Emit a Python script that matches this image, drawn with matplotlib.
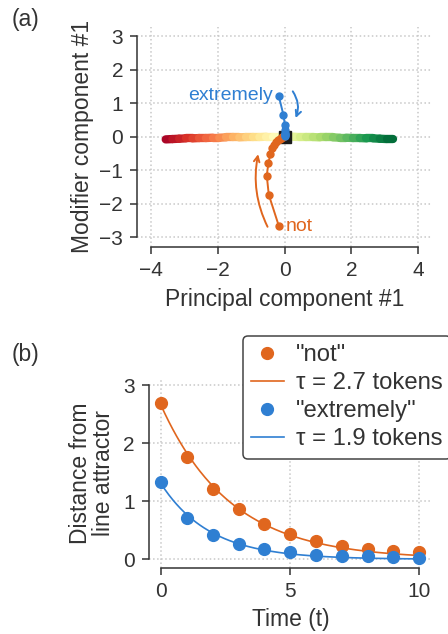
import numpy as np
import matplotlib
matplotlib.use('Agg')
import matplotlib.pyplot as plt
from matplotlib.collections import LineCollection
from matplotlib.patches import FancyArrowPatch

plt.rcParams['font.family'] = ['Liberation Sans', 'DejaVu Sans']

ORANGE = '#e0661e'
BLUE = '#2f7fd2'
DARK = '#333333'
GRIDC = '#c8c8c8'

# line attractor (fixed points along PC1)
attr_x = [-3.55, -3.35, -3.15, -2.95, -2.75, -2.55, -2.35, -2.15, -1.95, -1.75,
          -1.55, -1.35, -1.15, -0.95, -0.75, -0.55, -0.35, -0.15, 0.05, 0.25,
          0.45, 0.65, 0.85, 1.05, 1.25, 1.45, 1.65, 1.85, 2.05, 2.25,
          2.45, 2.65, 2.85, 3.05, 3.25]
attr_y = [-0.08, -0.07, -0.06, -0.05, -0.05, -0.04, -0.04, -0.03, -0.03, -0.02,
          -0.02, -0.02, -0.01, -0.01, -0.01, 0.0, 0.0, 0.0, 0.0, 0.0,
          -0.01, -0.01, -0.01, -0.02, -0.02, -0.02, -0.03, -0.03, -0.04, -0.04,
          -0.05, -0.05, -0.06, -0.07, -0.07]

# trajectories after the modifier word
not_x = [-0.17, -0.47, -0.53, -0.48, -0.42, -0.36, -0.30, -0.24, -0.19, -0.14, -0.10, -0.06, -0.03]
not_y = [-2.66, -1.73, -1.16, -0.78, -0.51, -0.34, -0.24, -0.17, -0.11, -0.07, -0.04, -0.02, 0.0]
ext_x = [-0.17, -0.03, 0.01, 0.01, 0.0, 0.0, 0.0, 0.0]
ext_y = [1.21, 0.64, 0.36, 0.21, 0.12, 0.07, 0.04, 0.02]

# distance from the line attractor vs time
t = [0, 1, 2, 3, 4, 5, 6, 7, 8, 9, 10]
dist_not = [2.69, 1.77, 1.22, 0.86, 0.61, 0.44, 0.31, 0.23, 0.18, 0.15, 0.13]
dist_ext = [1.33, 0.71, 0.42, 0.26, 0.17, 0.13, 0.08, 0.06, 0.05, 0.04, 0.03]
tau_not, amp_not = 2.7, 2.65
tau_ext, amp_ext = 1.9, 1.30

fig = plt.figure(figsize=(4.48, 6.34), dpi=100)
W, H = 448, 634


def px_axes(l, t_, r, b):
    return fig.add_axes([l / W, 1 - b / H, (r - l) / W, (b - t_) / H])


def style(ax, xb, yb):
    for s in ['top', 'right']:
        ax.spines[s].set_visible(False)
    for s in ['left', 'bottom']:
        ax.spines[s].set_color(DARK)
        ax.spines[s].set_linewidth(1.1)
    ax.spines['bottom'].set_bounds(*xb)
    ax.spines['left'].set_bounds(*yb)
    ax.tick_params(direction='out', length=5.2, width=1.1, color=DARK,
                   labelcolor=DARK, labelsize=15, pad=5)
    ax.grid(True, linestyle=':', color=GRIDC, linewidth=1.1)
    ax.set_axisbelow(True)


# ---- panel (a)
ax1 = px_axes(137.3, 26.7, 431.7, 246.7)
style(ax1, (-4, 4), (-3, 3))
ax1.set_xlim(-4.4, 4.4)
ax1.set_ylim(-3.28, 3.28)
ax1.set_xticks([-4, -2, 0, 2, 4])
ax1.set_yticks([-3, -2, -1, 0, 1, 2, 3])

pts = np.column_stack([attr_x, attr_y])
segs = np.stack([pts[:-1], pts[1:]], axis=1)
mid = (np.array(attr_x[:-1]) + np.array(attr_x[1:])) / 2
lc = LineCollection(segs, cmap='RdYlGn', linewidths=6, capstyle='round', zorder=2)
lc.set_array(mid)
lc.set_clim(min(attr_x), max(attr_x))
ax1.add_collection(lc)

ax1.plot([0], [0], marker='s', color='#1a1a1a', markersize=8.5, zorder=3)
ax1.plot(not_x, not_y, '-o', color=ORANGE, markersize=5, lw=1.4, zorder=4)
ax1.plot(ext_x, ext_y, '-o', color=BLUE, markersize=5, lw=1.4, zorder=5)

ax1.text(-0.36, 1.23, 'extremely', color=BLUE, fontsize=14, ha='right', va='center')
ax1.text(0.05, -2.68, 'not', color=ORANGE, fontsize=14, ha='left', va='center')

ax1.add_patch(FancyArrowPatch((0.2, 1.42), (0.3, 0.48), connectionstyle='arc3,rad=-0.3',
                              arrowstyle='->', mutation_scale=10, color=BLUE, lw=1.4))
ax1.add_patch(FancyArrowPatch((-0.47, -2.76), (-0.77, -0.44), connectionstyle='arc3,rad=-0.18',
                              arrowstyle='->', mutation_scale=10, color=ORANGE, lw=1.4))

ax1.set_xlabel('Principal component #1', fontsize=16.5, color=DARK, labelpad=6)
ax1.set_ylabel('Modifier component #1', fontsize=16.5, color=DARK, labelpad=4)

# ---- panel (b)
ax2 = px_axes(149, 378.3, 432, 567.7)
style(ax2, (0, 10), (0, 3))
ax2.set_xlim(-0.47, 10.5)
ax2.set_ylim(-0.145, 3.12)
ax2.set_xticks([0, 5, 10])
ax2.set_yticks([0, 1, 2, 3])

tt = np.linspace(0, 10, 200)
ax2.plot(t, dist_not, 'o', color=ORANGE, markersize=8.5, label='"not"', zorder=3)
ax2.plot(tt, amp_not * np.exp(-tt / tau_not), '-', color=ORANGE, lw=1.2,
         label='τ = %.1f tokens' % tau_not, zorder=2)
ax2.plot(t, dist_ext, 'o', color=BLUE, markersize=8.5, label='"extremely"', zorder=3)
ax2.plot(tt, amp_ext * np.exp(-tt / tau_ext), '-', color=BLUE, lw=1.2,
         label='τ = %.1f tokens' % tau_ext, zorder=2)

ax2.set_xlabel('Time (t)', fontsize=16.5, color=DARK, labelpad=5)
ax2.set_ylabel('Distance from\nline attractor', fontsize=16.5, color=DARK,
               labelpad=6, linespacing=1.0)

leg = ax2.legend(loc='upper left', bbox_to_anchor=(243 / W, 1 - 336 / H),
                 bbox_transform=fig.transFigure, fontsize=17.2, frameon=True,
                 fancybox=True, framealpha=1, edgecolor='#444444',
                 handlelength=1.35, handletextpad=0.5, labelspacing=0.25,
                 borderpad=0.35, borderaxespad=0)
leg.get_frame().set_linewidth(1.1)
for txt in leg.get_texts():
    txt.set_color(DARK)
leg.set_zorder(10)

fig.text(12 / W, 1 - 8 / H, '(a)', fontsize=16.5, color=DARK, ha='left', va='top')
fig.text(12 / W, 1 - 343 / H, '(b)', fontsize=16.5, color=DARK, ha='left', va='top')

fig.savefig('out.png', dpi=100)
